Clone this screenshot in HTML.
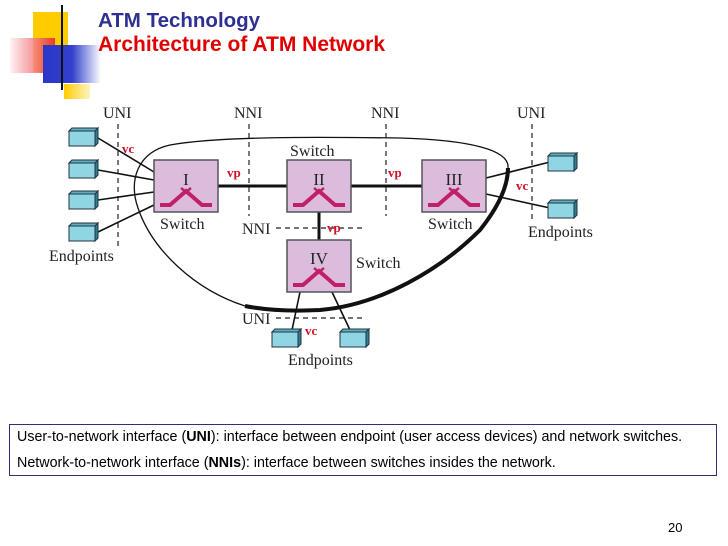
<!DOCTYPE html>
<html><head><meta charset="utf-8"><style>
body{margin:0;width:728px;height:546px;background:#fff;overflow:hidden;position:relative;font-family:"Liberation Sans",sans-serif}
.t1{position:absolute;left:98px;top:9px;font-weight:bold;font-size:20.5px;color:#2e3192}
.t2{position:absolute;left:98px;top:33px;font-weight:bold;font-size:21px;color:#e00000}
.box{position:absolute;left:9px;top:424px;width:706px;height:50px;border:1px solid #2e3170;font-size:14.3px;color:#000}
.box div{position:absolute;left:7px;white-space:nowrap}
</style></head><body>
<svg width="728" height="546" style="position:absolute;left:0;top:0">
<defs>
<linearGradient id="rg" x1="0" x2="1"><stop offset="0" stop-color="#fff0f0"/><stop offset="1" stop-color="#e8202a"/></linearGradient>
<linearGradient id="bg" x1="0" x2="1"><stop offset="0" stop-color="#2a36c8"/><stop offset="0.5" stop-color="#3240cc"/><stop offset="1" stop-color="#fff"/></linearGradient>
<linearGradient id="lg" x1="0" x2="1"><stop offset="0" stop-color="#111"/><stop offset="0.6" stop-color="#777"/><stop offset="1" stop-color="#ccc"/></linearGradient>
<linearGradient id="yg" x1="0" x2="1"><stop offset="0" stop-color="#ffcc00"/><stop offset="1" stop-color="#fff4c0"/></linearGradient>
<g id="ep"><polygon points="0,3 3,0 29,0 26,3" fill="#5fb0c0" stroke="#234" stroke-width="1"/><polygon points="26,3 29,0 29,15 26,18" fill="#2f7f90" stroke="#234"/><rect x="0" y="3" width="26" height="15" fill="#8fd5e3" stroke="#234"/></g>
<g id="sw"><rect width="64" height="52" fill="#dcbcdc" stroke="#555" stroke-width="1.5"/><path d="M6,45 H16 L32,31 L48,45 H58" fill="none" stroke="#c0206a" stroke-width="4"/><path d="M27,28 L37,36 M37,28 L27,36" stroke="#c0206a" stroke-width="2.5"/></g>
</defs>
<rect x="33" y="12" width="35" height="60" fill="#ffcc00"/>
<rect x="64" y="84" width="26" height="15" fill="url(#yg)"/>
<rect x="10" y="38" width="45" height="35" fill="url(#rg)" opacity="0.85"/>
<rect x="43" y="45" width="58" height="38" fill="url(#bg)"/>
<line x1="62" y1="5" x2="62" y2="90" stroke="#111" stroke-width="2"/>
<line x1="35" y1="68" x2="728" y2="68" stroke="url(#lg)" stroke-width="2"/>
<g font-family="Liberation Serif,serif" font-size="16" fill="#222">
<text x="103" y="118">UNI</text><text x="234" y="118">NNI</text><text x="371" y="118">NNI</text><text x="517" y="118">UNI</text>
<text x="290" y="156">Switch</text><text x="160" y="229">Switch</text><text x="428" y="229">Switch</text><text x="356" y="268">Switch</text>
<text x="242" y="234">NNI</text><text x="242" y="324">UNI</text>
<text x="49" y="261">Endpoints</text><text x="528" y="237">Endpoints</text><text x="288" y="365">Endpoints</text>
</g>
<g stroke="#222" stroke-width="1.2" stroke-dasharray="5,4" fill="none">
<line x1="118" y1="124" x2="118" y2="246"/><line x1="249" y1="124" x2="249" y2="216"/><line x1="386" y1="124" x2="386" y2="216"/><line x1="532" y1="124" x2="532" y2="220"/>
<line x1="276" y1="228" x2="366" y2="228"/><line x1="276" y1="318" x2="366" y2="318"/>
</g>
<path d="M508,168 C510,150 470,140 400,138 C320,137 220,136 170,145 C138,152 128,180 138,208 C152,250 195,290 245,306" fill="none" stroke="#111" stroke-width="1.3"/>
<path d="M508,168 C508,185 500,205 480,230 C440,270 380,305 320,310 C300,311 270,311 245,306" fill="none" stroke="#111" stroke-width="4"/>
<g stroke="#111" stroke-width="1.6">
<line x1="98" y1="138" x2="154" y2="172"/><line x1="98" y1="170" x2="154" y2="180"/><line x1="98" y1="200" x2="154" y2="192"/><line x1="98" y1="232" x2="154" y2="205"/>
<line x1="486" y1="178" x2="550" y2="162"/><line x1="486" y1="194" x2="550" y2="208"/>
<line x1="300" y1="292" x2="292" y2="330"/><line x1="332" y1="292" x2="350" y2="330"/>
</g>
<g stroke="#111" stroke-width="3"><line x1="217" y1="186" x2="287" y2="186"/><line x1="351" y1="186" x2="422" y2="186"/><line x1="319" y1="212" x2="319" y2="240"/></g>
<use href="#ep" x="69" y="128"/><use href="#ep" x="69" y="160"/><use href="#ep" x="69" y="191"/><use href="#ep" x="69" y="223"/>
<use href="#ep" x="548" y="153"/><use href="#ep" x="548" y="200"/>
<use href="#ep" x="272" y="329"/><use href="#ep" x="340" y="329"/>
<use href="#sw" x="154" y="160"/><use href="#sw" x="287" y="160"/><use href="#sw" x="422" y="160"/><use href="#sw" x="287" y="240"/>
<g font-family="Liberation Serif,serif" font-size="17" fill="#222" text-anchor="middle">
<text x="186" y="185">I</text><text x="319" y="185">II</text><text x="454" y="185">III</text><text x="319" y="264">IV</text>
</g>
<g font-family="Liberation Serif,serif" font-size="13" font-weight="bold" fill="#d0102a">
<text x="122" y="153">vc</text><text x="227" y="177">vp</text><text x="388" y="177">vp</text><text x="516" y="190">vc</text><text x="327" y="232">vp</text><text x="305" y="335">vc</text>
</g>
</svg>
<div class="t1">ATM Technology</div>
<div class="t2">Architecture of ATM Network</div>
<div class="box">
<div style="top:4px">User-to-network interface (<b>UNI</b>): interface between endpoint (user access devices) and network switches.</div>
<div style="top:30px">Network-to-network interface (<b>NNIs</b>): interface between switches insides the network.</div>
</div>
<div style="position:absolute;left:668px;top:520px;font-size:13px">20</div>
</body></html>
